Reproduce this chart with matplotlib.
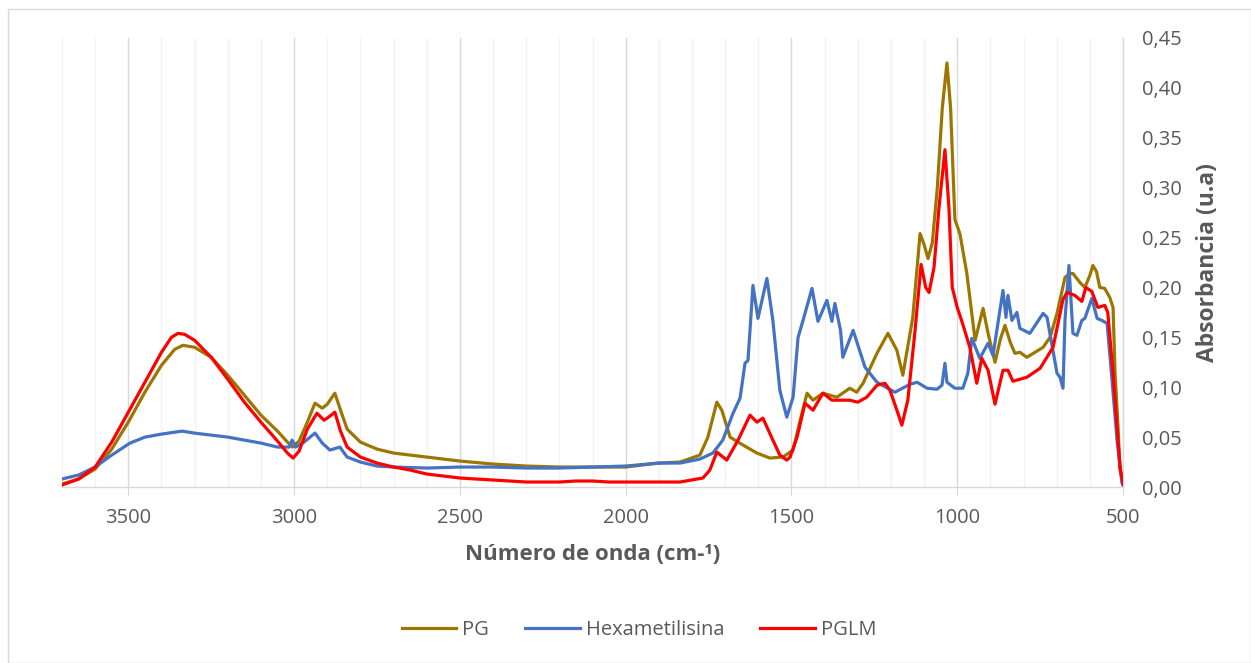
import matplotlib.pyplot as plt
from matplotlib.ticker import MultipleLocator, FuncFormatter
from matplotlib.patches import Rectangle

# values (wavenumber cm-1, absorbance u.a)
pg_x = [3700, 3650, 3600, 3550, 3500, 3450, 3400, 3360, 3335, 3300, 3250, 3200,
        3150, 3100, 3050, 3020, 3005, 2985, 2960, 2937, 2915, 2900, 2877, 2860,
        2840, 2800, 2750, 2700, 2600, 2500, 2400, 2300, 2200, 2100, 2000, 1950,
        1900, 1836, 1776, 1752, 1725, 1710, 1685, 1646, 1604, 1565, 1526, 1495,
        1475, 1453, 1435, 1405, 1363, 1324, 1303, 1284, 1242, 1209, 1182, 1164,
        1134, 1112, 1100, 1088, 1075, 1060, 1045, 1031, 1020, 1007, 992, 971,
        946, 922, 907, 886, 870, 856, 840, 826, 811, 790, 741, 720, 699, 675,
        660, 651, 630, 615, 600, 591, 580, 570, 555, 540, 530, 524, 515, 509, 500]
pg_y = [0.003, 0.008, 0.018, 0.038, 0.065, 0.095, 0.122, 0.138, 0.142, 0.140, 0.130, 0.112,
        0.092, 0.072, 0.056, 0.045, 0.040, 0.046, 0.065, 0.084, 0.079, 0.083, 0.094, 0.077,
        0.058, 0.045, 0.038, 0.034, 0.030, 0.026, 0.023, 0.021, 0.020, 0.020, 0.020, 0.022,
        0.024, 0.025, 0.032, 0.050, 0.085, 0.077, 0.050, 0.042, 0.034, 0.029, 0.030, 0.037,
        0.065, 0.094, 0.087, 0.094, 0.090, 0.099, 0.095, 0.104, 0.134, 0.154, 0.137, 0.112,
        0.170, 0.254, 0.243, 0.229, 0.245, 0.300, 0.380, 0.425, 0.380, 0.268, 0.254, 0.214,
        0.147, 0.179, 0.154, 0.125, 0.148, 0.162, 0.145, 0.134, 0.135, 0.130, 0.140, 0.150,
        0.174, 0.210, 0.214, 0.214, 0.205, 0.200, 0.212, 0.222, 0.216, 0.200, 0.199, 0.190,
        0.180, 0.114, 0.060, 0.017, 0.004]

hx_x = [3700, 3650, 3600, 3550, 3495, 3450, 3400, 3338, 3300, 3200, 3100, 3050,
        3015, 3006, 2995, 2970, 2937, 2915, 2892, 2862, 2840, 2800, 2750, 2700,
        2600, 2500, 2400, 2300, 2200, 2100, 2000, 1900, 1836, 1776, 1737, 1707,
        1676, 1655, 1640, 1631, 1616, 1601, 1574, 1556, 1535, 1514, 1495, 1480,
        1465, 1438, 1420, 1393, 1378, 1369, 1352, 1345, 1314, 1278, 1242, 1188,
        1142, 1121, 1091, 1061, 1046, 1037, 1031, 1007, 983, 968, 956, 932, 907,
        892, 862, 853, 847, 835, 820, 811, 781, 741, 729, 699, 690, 681, 675, 663,
        651, 639, 624, 615, 594, 578, 564, 548, 533, 518, 503, 500]
hx_y = [0.008, 0.012, 0.020, 0.032, 0.044, 0.050, 0.053, 0.056, 0.054, 0.050, 0.044, 0.040,
        0.040, 0.047, 0.040, 0.045, 0.054, 0.044, 0.037, 0.040, 0.030, 0.025, 0.021, 0.020,
        0.019, 0.020, 0.020, 0.019, 0.019, 0.020, 0.021, 0.024, 0.024, 0.028, 0.034, 0.047,
        0.074, 0.089, 0.124, 0.127, 0.202, 0.169, 0.209, 0.167, 0.097, 0.070, 0.090, 0.150,
        0.167, 0.199, 0.166, 0.187, 0.166, 0.184, 0.157, 0.130, 0.157, 0.120, 0.105, 0.095,
        0.103, 0.105, 0.099, 0.098, 0.102, 0.124, 0.105, 0.099, 0.099, 0.114, 0.149, 0.129,
        0.144, 0.132, 0.197, 0.170, 0.192, 0.167, 0.175, 0.159, 0.154, 0.174, 0.170, 0.114,
        0.110, 0.099, 0.167, 0.222, 0.154, 0.152, 0.167, 0.169, 0.189, 0.169, 0.167, 0.164,
        0.107, 0.047, 0.004, 0.002]

pglm_x = [3700, 3650, 3600, 3550, 3500, 3450, 3400, 3370, 3350, 3330, 3300, 3250,
          3200, 3150, 3100, 3050, 3020, 3003, 2985, 2960, 2931, 2910, 2900, 2877,
          2860, 2840, 2800, 2750, 2700, 2650, 2600, 2500, 2400, 2300, 2200, 2150,
          2100, 2050, 2000, 1900, 1836, 1767, 1746, 1725, 1695, 1661, 1625, 1604,
          1586, 1556, 1535, 1514, 1504, 1483, 1459, 1435, 1405, 1378, 1324, 1300,
          1273, 1242, 1218, 1203, 1182, 1167, 1149, 1128, 1109, 1095, 1085, 1070,
          1055, 1037, 1025, 1015, 1000, 985, 962, 941, 926, 907, 886, 862, 847,
          832, 790, 750, 711, 681, 669, 645, 624, 612, 594, 576, 555, 546, 530,
          509, 500]
pglm_y = [0.002, 0.008, 0.020, 0.045, 0.075, 0.105, 0.135, 0.150, 0.154, 0.153, 0.147, 0.130,
          0.108, 0.085, 0.065, 0.046, 0.034, 0.029, 0.036, 0.058, 0.074, 0.067, 0.069, 0.075,
          0.056, 0.040, 0.030, 0.024, 0.020, 0.017, 0.013, 0.009, 0.007, 0.005, 0.005, 0.006,
          0.006, 0.005, 0.005, 0.005, 0.005, 0.009, 0.017, 0.035, 0.027, 0.047, 0.072, 0.065,
          0.069, 0.047, 0.032, 0.027, 0.030, 0.050, 0.084, 0.077, 0.094, 0.087, 0.087, 0.085,
          0.090, 0.102, 0.104, 0.097, 0.077, 0.062, 0.087, 0.154, 0.223, 0.200, 0.195, 0.220,
          0.280, 0.338, 0.280, 0.200, 0.180, 0.165, 0.140, 0.104, 0.129, 0.117, 0.083, 0.117,
          0.117, 0.106, 0.110, 0.119, 0.140, 0.188, 0.195, 0.192, 0.186, 0.200, 0.196, 0.180,
          0.182, 0.175, 0.114, 0.020, 0.003]

series_names = ['PG', 'Hexametilisina', 'PGLM']
series_colors = ['#9C7600', '#4472C4', '#FF0000']

plt.rcParams['font.family'] = ['Open Sans', 'DejaVu Sans']
txt = '#595959'

fig = plt.figure(figsize=(12.51, 6.63), dpi=100)
ax = fig.add_axes([62/1251, 1 - 487/663, (1123 - 62)/1251, (487 - 38)/663])

for xs, ys, name, col in zip([pg_x, hx_x, pglm_x], [pg_y, hx_y, pglm_y], series_names, series_colors):
    ax.plot(xs, ys, color=col, lw=2.3, label=name, solid_joinstyle='round', zorder=3)

ax.set_xlim(3700, 500)
ax.set_ylim(0, 0.45)

# x grid: minor every 100, major every 500
ax.xaxis.set_major_locator(MultipleLocator(500))
ax.xaxis.set_minor_locator(MultipleLocator(100))
ax.grid(axis='x', which='minor', color='#F2F2F2', lw=1, zorder=0)
ax.grid(axis='x', which='major', color='#D9D9D9', lw=1, zorder=0)
ax.tick_params(axis='x', which='major', length=6, color='#D9D9D9', labelsize=14.5, labelcolor=txt, pad=9)
ax.tick_params(axis='x', which='minor', length=0)

# y axis on the right
ax.yaxis.tick_right()
ax.yaxis.set_label_position('right')
ax.yaxis.set_major_locator(MultipleLocator(0.05))
ax.yaxis.set_major_formatter(FuncFormatter(lambda v, p: f'{v:.2f}'.replace('.', ',')))
ax.tick_params(axis='y', length=0, labelsize=14.5, labelcolor=txt, pad=14)

for s in ['top', 'left']:
    ax.spines[s].set_visible(False)
for s in ['bottom', 'right']:
    ax.spines[s].set_color('#D9D9D9')
    ax.spines[s].set_linewidth(1)

ax.set_xlabel('Número de onda (cm-¹)', fontsize=16, fontweight='bold', color=txt, labelpad=12)
ax.set_ylabel('Absorbancia (u.a)', fontsize=16.5, fontweight='bold', color=txt, labelpad=10)

fig.legend(loc='center', bbox_to_anchor=(639/1251, 1 - 630/663), ncol=3, frameon=False,
           fontsize=14.5, labelcolor=txt, handlelength=2.7, columnspacing=1.8, handletextpad=0.3)

# chart border
fig.patches.append(Rectangle((8/1251, 0), 1 - 8/1251, 1 - 9/663, transform=fig.transFigure,
                             fill=False, edgecolor='#D9D9D9', lw=1))

fig.savefig('out.png', dpi=100)
